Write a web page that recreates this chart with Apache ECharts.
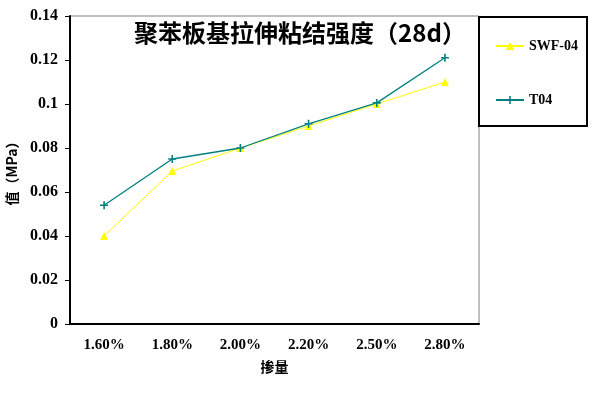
<!DOCTYPE html>
<html><head><meta charset="utf-8">
<script src="https://cdn.jsdelivr.net/npm/echarts@6/dist/echarts.min.js"></script>
<style>html,body{margin:0;padding:0;background:#fff}#c{width:594px;height:394px}</style>
</head><body><div id="c"></div>
<script>
const titleText = '聚苯板基拉伸粘结强度（28d）';
const categories = ['1.60%', '1.80%', '2.00%', '2.20%', '2.50%', '2.80%'];
const swf04 = [0.04, 0.0695, 0.08, 0.09, 0.1, 0.11];
const t04 = [0.054, 0.075, 0.08, 0.091, 0.1005, 0.121];
const yTicks = [0, 0.02, 0.04, 0.06, 0.08, 0.1, 0.12, 0.14];
const xName = '掺量';
const yName = '值（MPa）';

const numFont = "'Liberation Serif', 'Noto Sans CJK SC', serif";
const cjkFont = "'Noto Sans CJK SC', sans-serif";
const chart = echarts.init(document.getElementById('c'), null, {renderer: 'canvas'});
chart.setOption({
  animation: false,
  backgroundColor: '#fff',
  title: {
    text: titleText, left: 295, top: 16, textAlign: 'center',
    textStyle: {fontFamily: cjkFont, fontWeight: 'bold', fontSize: 24, color: '#000'}
  },
  grid: {left: 70, right: 115, top: 16, bottom: 70, containLabel: false, outerBoundsMode: 'none',
    show: true, borderColor: '#808080', borderWidth: 1},
  legend: {
    orient: 'vertical', left: 495, top: 39, padding: 0, itemGap: 40, itemWidth: 28, itemHeight: 10,
    textStyle: {fontFamily: numFont, fontWeight: 'bold', fontSize: 14, color: '#000'},
    data: ['SWF-04', 'T04']
  },
  graphic: [{
    type: 'rect', shape: {x: 479, y: 17, width: 108, height: 109}, z: 100,
    style: {fill: 'none', stroke: '#000', lineWidth: 2}
  }],
  xAxis: {
    type: 'category', data: categories, boundaryGap: true,
    name: xName, nameLocation: 'middle', nameGap: 36,
    nameTextStyle: {fontFamily: cjkFont, fontWeight: 'bold', fontSize: 14, color: '#000'},
    axisLine: {lineStyle: {color: '#000', width: 2}},
    axisTick: {inside: true, length: 4, lineStyle: {color: '#000'}},
    axisLabel: {margin: 14, fontFamily: numFont, fontWeight: 'bold', fontSize: 15, color: '#000'},
    splitLine: {show: false}
  },
  yAxis: {
    type: 'value', min: 0, max: 0.14, interval: 0.02,
    name: yName, nameLocation: 'middle', nameGap: 49, nameRotate: 90,
    nameTextStyle: {fontFamily: cjkFont, fontWeight: 'bold', fontSize: 14, color: '#000'},
    axisLine: {show: true, lineStyle: {color: '#000', width: 2}},
    axisTick: {show: true, length: 5, lineStyle: {color: '#000'}},
    axisLabel: {margin: 12, fontFamily: numFont, fontWeight: 'bold', fontSize: 16, color: '#000',
      formatter: v => { const t = yTicks.find(x => Math.abs(x - v) < 1e-9); return String(t !== undefined ? t : v); }},
    splitLine: {show: false}
  },
  series: [
    {
      name: 'SWF-04', type: 'line', data: swf04,
      symbol: 'triangle', symbolSize: 8,
      lineStyle: {color: '#FFFF00', width: 1},
      itemStyle: {color: '#FFFF00'}
    },
    {
      name: 'T04', type: 'line', data: t04,
      symbol: 'path://M4,0H6V4H10V6H6V10H4V6H0V4H4Z', symbolSize: 8,
      lineStyle: {color: '#008080', width: 1.3},
      itemStyle: {color: '#008080'}
    }
  ]
});
</script></body></html>
